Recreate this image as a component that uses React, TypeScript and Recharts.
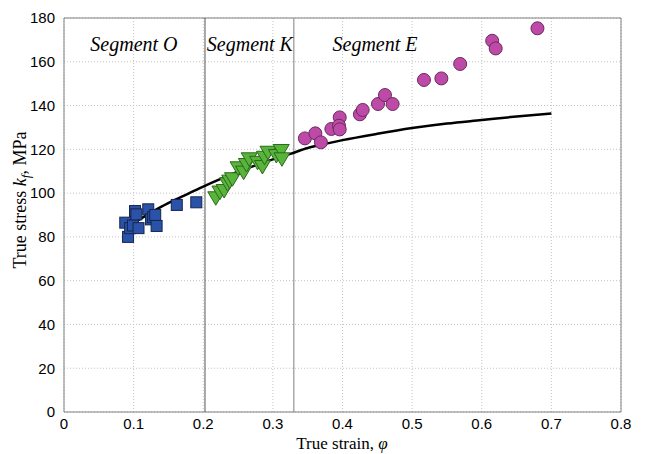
import React from 'react';
import {
  ComposedChart,
  Scatter,
  Line,
  XAxis,
  YAxis,
  CartesianGrid,
  ReferenceLine,
  ReferenceDot,
} from 'recharts';

// Segment O (blue squares)
const SEG_O_STRAIN = [0.088, 0.092, 0.095, 0.099, 0.102, 0.104, 0.107, 0.121, 0.125, 0.128, 0.131, 0.133, 0.162, 0.19];
const SEG_O_STRESS = [86.5, 80, 84, 85.2, 91.8, 90.3, 84, 92.6, 88, 89, 90, 85, 94.6, 95.8];

// Segment K (green triangles)
const SEG_K_STRAIN = [0.218, 0.224, 0.23, 0.235, 0.238, 0.242, 0.25, 0.258, 0.262, 0.266, 0.278, 0.285, 0.288, 0.293, 0.305, 0.312, 0.313];
const SEG_K_STRESS = [98.1, 100.7, 101.4, 104.5, 105.7, 106.8, 111.8, 109.8, 113.3, 115.9, 114.3, 112.4, 116.6, 118.9, 117.4, 119.7, 115.9];

// Segment E (magenta circles)
const SEG_E_STRAIN = [0.346, 0.361, 0.369, 0.384, 0.396, 0.395, 0.396, 0.425, 0.429, 0.451, 0.461, 0.472, 0.517, 0.542, 0.569, 0.615, 0.62, 0.68];
const SEG_E_STRESS = [125, 127.3, 123.2, 129.3, 134.6, 130.8, 129.1, 136, 138, 140.7, 144.8, 140.7, 151.7, 152.4, 159, 169.6, 166.1, 175.3];

// fitted flow curve
const CURVE_STRAIN = [0.09, 0.1, 0.12, 0.14, 0.16, 0.18, 0.2, 0.225, 0.25, 0.275, 0.3, 0.325, 0.35, 0.375, 0.4, 0.45, 0.5, 0.55, 0.6, 0.65, 0.7];
const CURVE_STRESS = [84.2, 86.3, 90.2, 93.8, 97, 100, 103, 106.5, 109.8, 112.7, 115.4, 117.9, 120.6, 122.5, 124.2, 127.1, 129.7, 131.8, 133.4, 135, 136.4];

const X_TICKS = [0, 0.1, 0.2, 0.3, 0.4, 0.5, 0.6, 0.7, 0.8];
const Y_TICKS = [0, 20, 40, 60, 80, 100, 120, 140, 160, 180];

const SEGMENT_BOUNDS = [0.2025, 0.33];
const SEGMENT_NAMES = ['Segment O', 'Segment K', 'Segment E'];

const zip = (xs: number[], ys: number[]) => xs.map((x, i) => ({ x, y: ys[i] }));

const segO = zip(SEG_O_STRAIN, SEG_O_STRESS);
const segK = zip(SEG_K_STRAIN, SEG_K_STRESS);
const segE = zip(SEG_E_STRAIN, SEG_E_STRESS);
const curve = zip(CURVE_STRAIN, CURVE_STRESS);

const SERIF = '"Liberation Serif", "Times New Roman", serif';
const SANS = '"Liberation Sans", Arial, sans-serif';

const Square = (props: any) => {
  const { cx, cy } = props;
  return <rect x={cx - 5.5} y={cy - 5.5} width={11} height={11} fill="#2a52a8" stroke="#16254f" strokeWidth={1} />;
};

const TriangleDown = (props: any) => {
  const { cx, cy } = props;
  return (
    <polygon
      points={`${cx - 8},${cy - 5.5} ${cx + 8},${cy - 5.5} ${cx},${cy + 8}`}
      fill="#58b43a"
      stroke="#2c6a1c"
      strokeWidth={1}
    />
  );
};

const Circle = (props: any) => {
  const { cx, cy } = props;
  return <circle cx={cx} cy={cy} r={6.5} fill="#bd4aa6" stroke="#6b2a60" strokeWidth={1} />;
};

export default function App() {
  return (
    <div style={{ position: 'absolute', left: 0, top: 0, background: '#fff' }}>
      <ComposedChart width={649} height={454} margin={{ top: 18, right: 28, bottom: 0, left: 0 }}>
        <CartesianGrid stroke="#c4c4c4" strokeDasharray="1 2" />
        <XAxis
          type="number"
          dataKey="x"
          domain={[0, 0.8]}
          ticks={X_TICKS}
          height={42}
          tickLine={false}
          axisLine={{ stroke: '#808080' }}
          tick={{ fill: '#000', fontSize: 15, fontFamily: SANS }}
          tickMargin={0}
          interval={0}
          label={{
            content: () => (
              <text x={342} y={449} textAnchor="middle" fontFamily={SERIF} fontSize={17} fill="#000">
                True strain, <tspan fontStyle="italic">φ</tspan>
              </text>
            ),
          }}
        />
        <YAxis
          type="number"
          dataKey="y"
          domain={[0, 180]}
          ticks={Y_TICKS}
          width={64}
          tickLine={false}
          axisLine={{ stroke: '#808080' }}
          tick={{ fill: '#000', fontSize: 15, fontFamily: SANS }}
          tickMargin={3}
          interval={0}
          label={{
            content: () => (
              <text
                x={0}
                y={0}
                transform="translate(26, 200) rotate(-90)"
                textAnchor="middle"
                fontFamily={SERIF}
                fontSize={18}
                fill="#000"
              >
                True stress <tspan fontStyle="italic">k</tspan>
                <tspan fontStyle="italic" fontSize={13} dy={4}>f</tspan>
                <tspan dy={-4}>, MPa</tspan>
              </text>
            ),
          }}
        />
        {/* plot frame */}
        <ReferenceLine x={0.8} stroke="#808080" />
        <ReferenceLine y={180} stroke="#808080" />
        {/* segment boundaries */}
        <ReferenceLine x={SEGMENT_BOUNDS[0]} stroke="#555" strokeWidth={1} />
        <ReferenceLine x={SEGMENT_BOUNDS[1]} stroke="#aaa" strokeWidth={1.5} />
        {SEGMENT_NAMES.map((name, i) => (
          <ReferenceDot
            key={name}
            x={[0.1005, 0.267, 0.4467][i]}
            y={168}
            r={0}
            fill="none"
            stroke="none"
            label={{
              value: name,
              position: 'center',
              fontFamily: SERIF,
              fontStyle: 'italic',
              fontSize: 20,
              fill: '#000',
            }}
          />
        ))}
        <Scatter data={segO} shape={Square} isAnimationActive={false} />
        <Scatter data={segK} shape={TriangleDown} isAnimationActive={false} />
        <Scatter data={segE} shape={Circle} isAnimationActive={false} />
        <Line
          data={curve}
          dataKey="y"
          type="monotone"
          dot={false}
          stroke="#000"
          strokeWidth={2.5}
          isAnimationActive={false}
        />
      </ComposedChart>
    </div>
  );
}
